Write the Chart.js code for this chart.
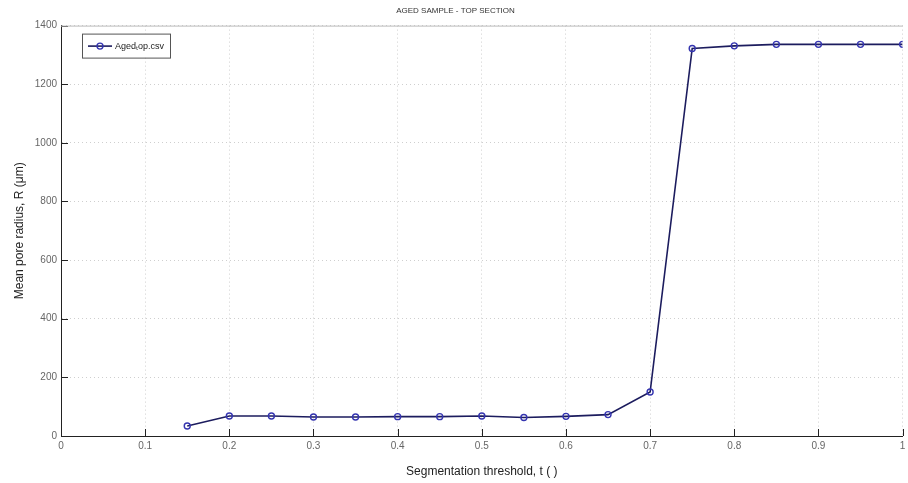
<!DOCTYPE html>
<html>
<head>
<meta charset="utf-8">
<script src="https://cdn.jsdelivr.net/npm/chart.js@4.4.1/dist/chart.umd.min.js"></script>
<style>
  html, body { margin: 0; padding: 0; background: #fff; }
  #wrap { width: 908px; height: 483px; position: relative; }
</style>
</head>
<body>
<div id="wrap"><canvas id="poreChart"></canvas></div>
<script>
// Umbral de segmentación vs radio medio de poro (muestra envejecida, sección superior)
const umbrales = [0.15, 0.2, 0.25, 0.3, 0.35, 0.4, 0.45, 0.5, 0.55, 0.6, 0.65, 0.7, 0.75, 0.8, 0.85, 0.9, 0.95, 1.0];
const radios = [34, 68, 68, 65, 65, 66, 66, 68, 63, 67, 73, 150, 1322, 1331, 1336, 1336, 1336, 1336];
const ticksX = [0, 0.1, 0.2, 0.3, 0.4, 0.5, 0.6, 0.7, 0.8, 0.9, 1];
const ticksY = [0, 200, 400, 600, 800, 1000, 1200, 1400];

const puntos = umbrales.map((t, i) => ({ x: t, y: radios[i] }));

// Marcas hacia dentro y línea superior, estilo Matlab
const marcoPlugin = {
    id: 'marco',
    afterDraw(chart) {
        const { ctx, chartArea: a, scales: { x, y } } = chart;
        ctx.save();
        ctx.strokeStyle = '#222';
        ctx.lineWidth = 1;
        ctx.beginPath();
        ticksX.forEach(v => {
            const px = Math.round(x.getPixelForValue(v)) + 0.5;
            ctx.moveTo(px, a.bottom); ctx.lineTo(px, a.bottom - 7);
        });
        ticksY.forEach(v => {
            const py = Math.round(y.getPixelForValue(v)) + 0.5;
            ctx.moveTo(a.left, py); ctx.lineTo(a.left + 7, py);
        });
        ctx.stroke();
        ctx.strokeStyle = '#bbb';
        ctx.beginPath();
        ctx.moveTo(a.left, a.top + 0.5); ctx.lineTo(a.right, a.top + 0.5);
        ctx.stroke();
        ctx.restore();
    }
};

new Chart(document.getElementById('poreChart'), {
    type: 'line',
    data: {
        datasets: [{
            label: 'Aged\u209Cop.csv',
            data: puntos,
            borderColor: '#1c1c5e',
            borderWidth: 1.6,
            pointRadius: 3,
            pointBorderWidth: 1.4,
            pointBorderColor: '#3535b0',
            pointBackgroundColor: 'rgba(255,255,255,0)',
            tension: 0
        }]
    },
    options: {
        responsive: true,
        maintainAspectRatio: false,
        animation: false,
        layout: { padding: { top: 0, right: -3, bottom: 0, left: 0 } },
        plugins: {
            title: {
                display: true,
                text: 'AGED SAMPLE - TOP SECTION',
                color: '#333',
                font: { family: 'Liberation Sans', size: 8, weight: 'normal' },
                padding: { top: 6, bottom: 10 }
            },
            legend: { display: false },
            tooltip: { enabled: false }
        },
        scales: {
            x: {
                type: 'linear',
                min: 0,
                max: 1,
                afterBuildTicks: s => { s.ticks = ticksX.map(v => ({ value: v })); },
                afterFit: s => { s.height = 47; s.paddingLeft = 0; s.paddingRight = 0; },
                ticks: {
                    color: '#666',
                    font: { family: 'Liberation Sans', size: 10 },
                    padding: 4,
                    maxRotation: 0,
                    callback: v => String(Number(v.toFixed(1)))
                },
                grid: { color: '#cfcfcf', drawTicks: false },
                border: { display: true, color: '#222', width: 1, dash: [1, 3] },
                title: {
                    display: true,
                    text: 'Segmentation threshold, t ( )',
                    color: '#222',
                    font: { family: 'Liberation Sans', size: 12 },
                    padding: { top: 8 }
                }
            },
            y: {
                type: 'linear',
                min: 0,
                max: 1400,
                afterBuildTicks: s => { s.ticks = ticksY.map(v => ({ value: v })); },
                afterFit: s => { s.width = 61; },
                ticks: {
                    color: '#666',
                    font: { family: 'Liberation Sans', size: 10 },
                    padding: 4,
                    callback: v => String(v)
                },
                grid: { color: '#cfcfcf', drawTicks: false },
                border: { display: true, color: '#222', width: 1, dash: [1, 3] },
                title: {
                    display: true,
                    text: 'Mean pore radius, R (\u03bcm)',
                    color: '#222',
                    font: { family: 'Liberation Sans', size: 12 },
                    padding: { top: 12, bottom: 4 }
                }
            }
        }
    },
    plugins: [marcoPlugin, {
        // Leyenda en recuadro arriba a la izquierda
        id: 'leyendaCaja',
        afterDraw(chart) {
            const { ctx, chartArea: a } = chart;
            const ds = chart.data.datasets[0];
            const bx = a.left + 21, by = a.top + 8, bw = 88, bh = 24;
            ctx.save();
            ctx.fillStyle = '#fff';
            ctx.fillRect(bx, by, bw, bh);
            ctx.strokeStyle = '#555';
            ctx.lineWidth = 1;
            ctx.strokeRect(bx + 0.5, by + 0.5, bw, bh);
            const cy = by + bh / 2 + 0.5;
            ctx.strokeStyle = ds.borderColor;
            ctx.lineWidth = 1.6;
            ctx.beginPath();
            ctx.moveTo(bx + 6, cy); ctx.lineTo(bx + 30, cy);
            ctx.stroke();
            ctx.strokeStyle = ds.pointBorderColor;
            ctx.lineWidth = 1.4;
            ctx.beginPath();
            ctx.arc(bx + 18, cy, 3, 0, Math.PI * 2);
            ctx.stroke();
            ctx.fillStyle = '#222';
            ctx.font = '9px "Liberation Sans"';
            ctx.textBaseline = 'middle';
            ctx.fillText(ds.label, bx + 33, cy);
            ctx.restore();
        }
    }]
});
</script>
</body>
</html>
